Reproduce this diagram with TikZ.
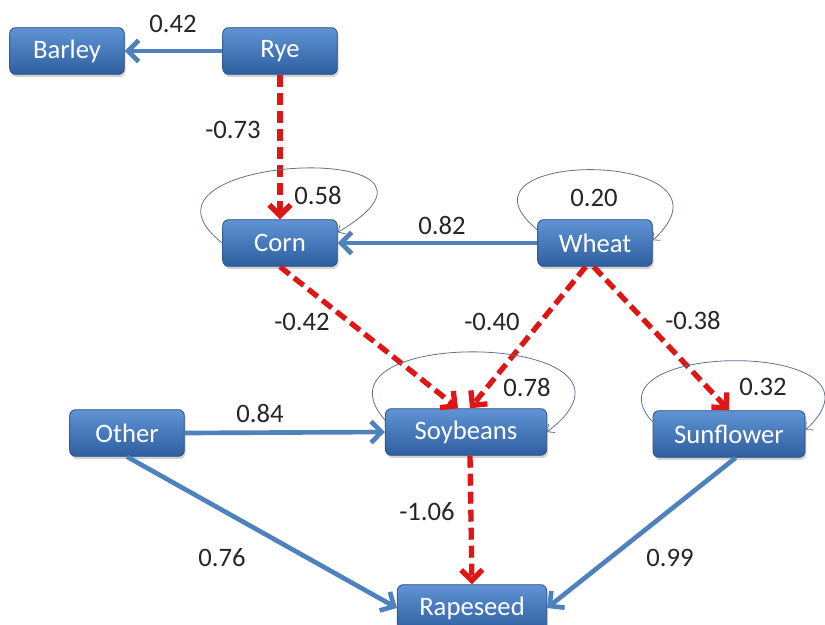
\documentclass[tikz,border=0pt]{standalone}
\usepackage{fontspec}
\setmainfont{Carlito}
\usetikzlibrary{arrows.meta, shadows}

\definecolor{boxtop}{RGB}{96,148,212}
\definecolor{boxbottom}{RGB}{46,94,160}
\definecolor{boxline}{RGB}{45,80,130}
\definecolor{edgeblue}{RGB}{79,129,189}
\definecolor{edgered}{RGB}{222,22,22}
\definecolor{loopgray}{RGB}{95,115,145}

\begin{document}
\begin{tikzpicture}[x=0.75pt, y=-0.75pt,
	crop/.style={rectangle, rounded corners=4.5pt, draw=boxline, line width=0.6pt,
		top color=boxtop, bottom color=boxbottom, text=white,
		minimum width=86pt, minimum height=35pt, font=\fontsize{20}{24}\selectfont,
		drop shadow={opacity=0.35, shadow xshift=1pt, shadow yshift=-2pt}},
	poslink/.style={draw=edgeblue, line width=3.5pt, -{Straight Barb[length=8pt,width=16pt]}},
	neglink/.style={draw=edgered, line width=4pt, dash pattern=on 9pt off 4.5pt,
		-{Straight Barb[length=8pt,width=16pt]}},
	selflink/.style={draw=loopgray, line width=0.6pt, -{Straight Barb[length=4pt,width=8pt]}},
	coef/.style={font=\fontsize{20}{24}\selectfont, text=black!85}]
	\useasboundingbox (0,0) rectangle (825,625);

	%top row - nodes
	\node[crop] (barley) at (67,51)  {Barley};
	\node[crop] (rye)    at (280,51) {Rye};

	%middle row - nodes
	\node[crop] (corn)  at (280,243) {Corn};
	\node[crop] (wheat) at (595,243) {Wheat};

	%lower row - nodes
	\node[crop] (other) at (127,433) {Other};
	\node[crop, minimum width=121pt] (soybeans)  at (466,432) {Soybeans};
	\node[crop, minimum width=114pt] (sunflower) at (729,434) {Sunflower};
	\node[crop, minimum width=112pt] (rapeseed)  at (472,608) {Rapeseed};

		%positive links
		\draw[poslink] (rye.west) -- (barley.east);				%rye--barley
		\draw[poslink] (wheat.west) -- (corn.east);				%wheat--corn
		\draw[poslink] (other.east) -- (soybeans.west);			%other--soybeans
		\draw[poslink] (other.south) -- (rapeseed.west);		%other--rapeseed
		\draw[poslink] ([xshift=5pt]sunflower.south) -- (rapeseed.east);	%sunflower--rapeseed

		%negative links
		\draw[neglink] (rye.south) -- (corn.north);								%rye--corn
		\draw[neglink] (corn.south) -- ([xshift=-6pt]soybeans.north);			%corn--soybeans
		\draw[neglink] ([xshift=-7pt]wheat.south) -- ([xshift=3pt]soybeans.north);	%wheat--soybeans
		\draw[neglink] ([xshift=-1pt]wheat.south) -- (sunflower.north);			%wheat--sunflower
		\draw[neglink] ([xshift=3pt]soybeans.south) -- (rapeseed.north);		%soybeans--rapeseed

		%self loops
		\draw[selflink] (corn.west) .. controls +(-115,-90) and +(160,-95) .. ([yshift=8pt]corn.east);
		\draw[selflink] ([yshift=10pt]wheat.west) .. controls +(-100,-82) and +(100,-92) .. ([yshift=2pt]wheat.east);
		\draw[selflink] ([yshift=9pt]soybeans.west) .. controls +(-85,-97) and +(130,-100) .. (soybeans.east);
		\draw[selflink] ([yshift=9pt]sunflower.west) .. controls +(-75,-82) and +(100,-92) .. ([yshift=3pt]sunflower.east);

	%coefficients
	\node[coef] (c42) at (173,24)  {0.42};
	\node[coef] (c73) at (233,130) {-0.73};
	\node[coef] (c58) at (318,195) {0.58};
	\node[coef] (c82) at (442,225) {0.82};
	\node[coef] (c20) at (594,198) {0.20};
	\node[coef] (m42) at (302,322) {-0.42};
	\node[coef] (m40) at (492,322) {-0.40};
	\node[coef] (m38) at (693,320) {-0.38};
	\node[coef] (c84) at (260,413) {0.84};
	\node[coef] (c78) at (527,387) {0.78};
	\node[coef] (c32) at (763,387) {0.32};
	\node[coef] (m06) at (427,512) {-1.06};
	\node[coef] (c76) at (222,558) {0.76};
	\node[coef] (c99) at (670,558) {0.99};
\end{tikzpicture}
\end{document}
